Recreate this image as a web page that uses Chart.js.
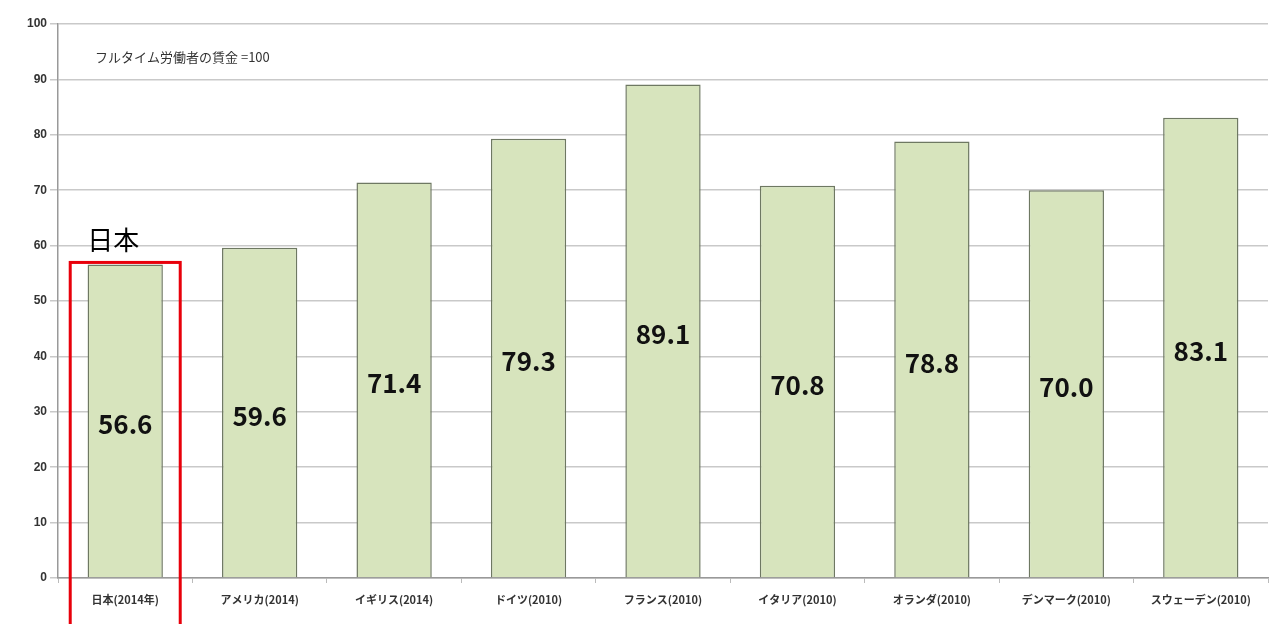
<!DOCTYPE html>
<html lang="ja">
<head>
  <meta charset="UTF-8" />
  <title>パートタイム労働者の賃金水準</title>
  <script src="https://cdn.jsdelivr.net/npm/chart.js"></script>
  <style>
    html, body { margin: 0; padding: 0; background: #fff; }
    #wrap { width: 1273px; height: 624px; position: relative; }
  </style>
</head>
<body>
  <div id="wrap"><canvas id="chart"></canvas></div>

  <script>
    const countries = ['日本(2014年)', 'アメリカ(2014)', 'イギリス(2014)', 'ドイツ(2010)', 'フランス(2010)',
                       'イタリア(2010)', 'オランダ(2010)', 'デンマーク(2010)', 'スウェーデン(2010)'];
    const wages = [56.6, 59.6, 71.4, 79.3, 89.1, 70.8, 78.8, 70.0, 83.1];
    const yTicks = [0, 10, 20, 30, 40, 50, 60, 70, 80, 90, 100];
    const noteText = 'フルタイム労働者の賃金 =100';
    const highlightIndex = 0;
    const highlightText = '日本';

    const jp = '"Noto Sans CJK JP", "Noto Sans", sans-serif';

    // labels inside bars, note text, red box around Japan
    const extras = {
      id: 'extras',
      afterDatasetsDraw(chart) {
        const c = chart.ctx;
        const meta = chart.getDatasetMeta(0);
        const y = chart.scales.y;
        c.save();
        c.fillStyle = '#111';
        c.font = 'bold 26px ' + jp;
        c.textAlign = 'center';
        c.textBaseline = 'middle';
        meta.data.forEach((bar, i) => {
          c.fillText(wages[i].toFixed(1), bar.x, y.getPixelForValue(wages[i] / 2) + 3);
        });

        c.font = '13px ' + jp;
        c.fillStyle = '#333';
        c.textAlign = 'left';
        c.fillText(noteText, chart.chartArea.left + 37, y.getPixelForValue(94));

        const hb = meta.data[highlightIndex];
        c.strokeStyle = '#e8000b';
        c.lineWidth = 3;
        c.strokeRect(hb.x - 55, hb.y - 2, 110, chart.height - hb.y + 10);
        c.fillStyle = '#000';
        c.font = '26px ' + jp;
        c.textAlign = 'left';
        c.textBaseline = 'alphabetic';
        c.fillText(highlightText, hb.x - 38, hb.y - 14);
        c.restore();
      }
    };

    new Chart(document.getElementById('chart'), {
      type: 'bar',
      data: {
        labels: countries,
        datasets: [{
          data: wages,
          backgroundColor: '#d7e4bd',
          borderColor: '#6e7862',
          borderWidth: 1.5,
          borderSkipped: 'bottom',
          categoryPercentage: 0.56,
          barPercentage: 1
        }]
      },
      options: {
        responsive: true,
        maintainAspectRatio: false,
        animation: false,
        layout: { padding: { top: 24, right: 5, left: 0, bottom: 0 } },
        plugins: { legend: { display: false }, tooltip: { enabled: false } },
        scales: {
          x: {
            grid: { display: true, drawOnChartArea: false, offset: true, tickLength: 5, color: '#bbb' },
            border: { color: '#999', width: 1.5 },
            ticks: { color: '#333', font: { family: jp, size: 11, weight: 'bold' }, padding: 10, maxRotation: 0 },
            afterFit(s) { s.height = 46; }
          },
          y: {
            min: 0, max: 100,
            afterBuildTicks(s) { s.ticks = yTicks.map(v => ({ value: v })); },
            grid: { color: '#c9c9c9', lineWidth: 1.5, tickLength: 8 },
            border: { color: '#999', width: 1.5 },
            ticks: { color: '#333', font: { family: '"Liberation Sans", Arial, sans-serif', size: 12, weight: 'bold' }, padding: 3 },
            afterFit(s) { s.width = 58; }
          }
        }
      },
      plugins: [extras]
    });
  </script>
</body>
</html>
